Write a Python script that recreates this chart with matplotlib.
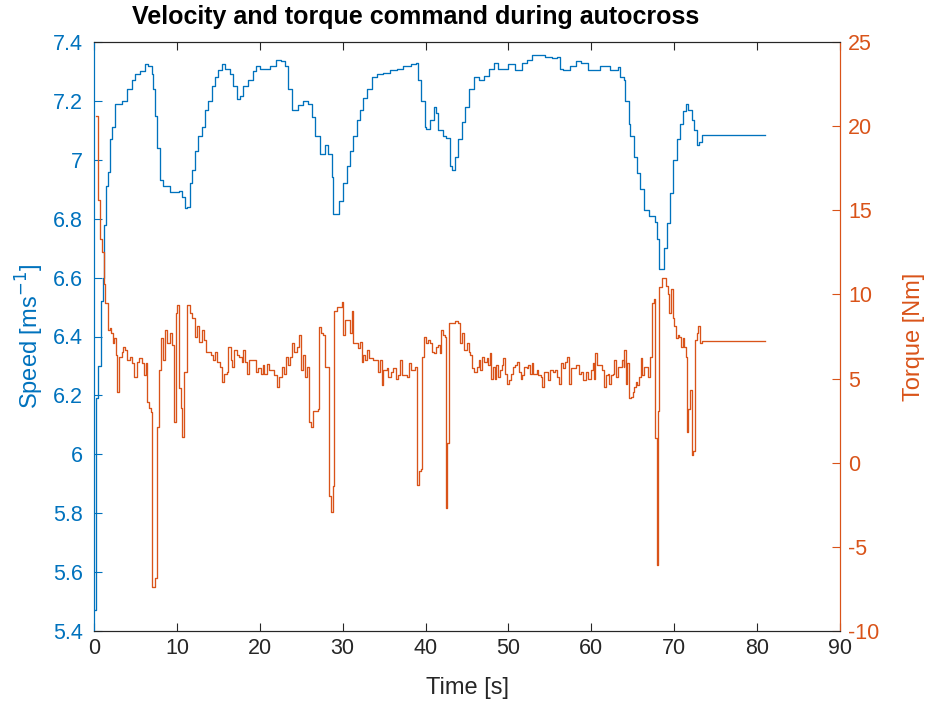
import matplotlib
matplotlib.use("Agg")
import matplotlib.pyplot as plt
import numpy as np

plt.rcParams['font.family'] = ['Liberation Sans', 'DejaVu Sans']
plt.rcParams['axes.unicode_minus'] = False

# ---- data ----
speed_t = [0.1, 0.21, 0.54, 0.88, 1.05, 1.17, 1.47, 1.72, 1.93, 2.23, 2.57, 3.34, 3.94, 4.55, 4.95,
           5.55, 6.15, 6.55, 6.96, 7.16, 7.36, 7.56, 7.96, 8.36, 9.17, 10.2, 10.58, 10.98, 11.26,
           11.58, 11.78, 12.18, 12.58, 12.99, 13.39, 13.79, 14.2, 14.6, 15.0, 15.4, 15.8, 16.4,
           16.8, 17.2, 17.6, 18.0, 18.6, 19.2, 19.6, 20.0, 20.6, 21.2, 22.0, 22.6, 23.0, 23.4,
           23.85, 24.25, 24.65, 25.25, 25.85, 26.26, 26.66, 27.26, 27.87, 28.27, 28.67, 28.87,
           29.5, 30.1, 30.5, 30.9, 31.3, 31.7, 32.1, 32.5, 32.9, 33.5, 34.1, 34.9, 35.7, 36.5,
           37.3, 38.3, 38.9, 39.1, 39.5, 39.9, 40.1, 40.5, 41.0, 41.3, 41.5, 42.1, 42.5, 42.9,
           43.2, 43.6, 43.95, 44.35, 44.8, 45.2, 45.8, 46.4, 47.0, 47.6, 48.2, 48.8, 49.4, 50.0,
           50.8, 51.6, 52.2, 52.8, 53.6, 54.4, 55.2, 55.8, 56.2, 56.6, 57.4, 58.2, 58.8, 59.6,
           60.4, 61.0, 61.6, 62.2, 62.9, 63.25, 63.45, 63.9, 64.1, 64.5, 64.7, 65.1, 65.5, 65.9,
           66.3, 66.9, 67.7, 67.95, 68.15, 68.75, 69.1, 69.5, 69.9, 70.3, 70.7, 71.1, 71.4, 71.7,
           72.1, 72.4, 72.7, 73.0, 73.3, 80.9]
speed_v = [5.47, 6.19, 6.30, 6.52, 6.60, 6.78, 6.91, 6.96, 7.07, 7.11, 7.19, 7.20, 7.24, 7.27, 7.29,
           7.30, 7.325, 7.32, 7.29, 7.24, 7.15, 7.04, 6.93, 6.91, 6.89, 6.895, 6.875, 6.835, 6.84,
           6.92, 6.965, 7.03, 7.08, 7.11, 7.17, 7.20, 7.25, 7.28, 7.305, 7.325, 7.31, 7.29,
           7.25, 7.205, 7.215, 7.25, 7.27, 7.30, 7.32, 7.31, 7.31, 7.32, 7.34, 7.335, 7.32, 7.24,
           7.17, 7.17, 7.185, 7.20, 7.19, 7.145, 7.08, 7.02, 7.05, 7.02, 6.94, 6.815,
           6.86, 6.92, 6.98, 7.03, 7.08, 7.135, 7.17, 7.21, 7.24, 7.28, 7.29, 7.295, 7.305, 7.31,
           7.32, 7.325, 7.33, 7.27, 7.20, 7.11, 7.105, 7.135, 7.18, 7.16, 7.10, 7.08, 7.075, 6.98,
           6.965, 7.01, 7.07, 7.13, 7.18, 7.24, 7.28, 7.27, 7.285, 7.31, 7.33, 7.31, 7.31, 7.325,
           7.305, 7.33, 7.34, 7.355, 7.355, 7.35, 7.345, 7.35, 7.31, 7.305, 7.32, 7.335, 7.33, 7.305,
           7.305, 7.32, 7.32, 7.305, 7.305, 7.315, 7.28, 7.27, 7.20, 7.12, 7.08, 7.01, 6.955, 6.90,
           6.83, 6.81, 6.79, 6.73, 6.63, 6.70, 6.785, 6.886, 7.0, 7.07, 7.12, 7.165, 7.19, 7.17,
           7.135, 7.10, 7.05, 7.06, 7.085, 7.085]

torque_t = [0.2, 0.46, 0.75, 0.97, 1.17, 1.38, 1.68, 1.89, 2.1, 2.3, 2.45, 2.65, 2.81, 3.0, 3.34,
            3.54, 3.74, 3.94, 4.34, 4.62, 4.83, 5.15, 5.47, 5.75, 6.03, 6.23, 6.43, 6.64, 6.84,
            7.04, 7.36, 7.56, 7.84, 8.05, 8.36, 8.6, 8.85, 9.17, 9.41, 9.65, 9.85, 10.05, 10.25,
            10.46, 10.66, 10.9, 11.18, 11.58, 11.86, 12.18, 12.47, 12.67, 12.99, 13.27, 13.47,
            14.08, 14.32, 14.6, 14.88, 15.2, 15.48, 15.68, 16.08, 16.2, 16.49, 16.69, 16.89, 17.2,
            17.53, 17.82, 18.0, 18.2, 18.42, 18.74, 19.5, 19.8, 20.1, 20.35, 20.55, 20.83, 21.1,
            21.7, 22.04, 22.3, 22.65, 22.9, 23.16, 23.44, 23.65, 23.92, 24.16, 24.45, 24.73, 24.97,
            25.25, 25.46, 25.74, 25.94, 26.18, 26.46, 26.98, 27.2, 27.39, 27.67, 27.87, 28.39,
            28.59, 28.8, 29.0, 29.28, 29.88, 30.08, 30.28, 30.88, 31.09, 31.29, 31.89, 32.1, 32.29,
            32.49, 32.7, 32.97, 33.2, 33.7, 34.3, 34.5, 34.7, 34.9, 35.3, 35.5, 35.8, 36.1, 36.4,
            36.7, 36.9, 37.1, 37.8, 38.0, 38.25, 38.7, 39.0, 39.2, 39.4, 39.6, 39.85, 40.05, 40.26,
            40.5, 40.8, 41.06, 41.26, 41.5, 41.7, 41.9, 42.1, 42.3, 42.47, 42.63, 42.83, 43.55,
            43.95, 44.2, 44.45, 44.67, 44.95, 45.2, 45.36, 45.6, 45.88, 46.16, 46.4, 46.57, 46.85,
            47.05, 47.37, 47.57, 47.8, 47.9, 48.17, 48.38, 48.5, 48.8, 49.0, 49.2, 49.4, 49.6,
            49.86, 50.1, 50.27, 50.5, 50.8, 51.07, 51.3, 51.48, 51.68, 51.88, 52.2, 52.4, 52.6,
            52.8, 53.0, 53.4, 53.6, 53.9, 54.1, 54.3, 54.8, 55.0, 55.33, 55.6, 55.8, 56.1, 56.4,
            56.6, 56.8, 57.1, 57.3, 57.5, 58.1, 58.5, 58.8, 59.0, 59.35, 59.6, 59.9, 60.15, 60.3,
            60.5, 60.7, 61.25, 61.5, 61.77, 61.97, 62.17, 62.37, 62.65, 62.77, 63.0, 63.2, 63.7,
            63.9, 64.0, 64.2, 64.35, 64.55, 64.8, 65.0, 65.15, 65.35, 65.55, 65.8, 65.95, 66.15,
            66.35, 66.87, 67.1, 67.3, 67.6, 67.7, 67.88, 68.05, 68.2, 68.5, 68.8, 69.0, 69.2, 69.4,
            69.6, 69.8, 70.0, 70.2, 70.4, 70.6, 70.8, 71.0, 71.2, 71.4, 71.5, 71.7, 71.9, 72.1,
            72.3, 72.5, 72.7, 72.9, 73.1, 73.3, 80.9]
torque_v = [20.6, 15.6, 13.3, 12.5, 10.6, 9.47, 7.9, 8.0, 7.7, 7.1, 7.4, 6.4, 4.22, 6.3, 6.6,
            6.9, 6.7, 6.1, 6.3, 5.9, 5.1, 6.0, 6.2, 5.9, 5.2, 5.9, 3.63, 3.24, 3.04,
            -7.37, -6.87, 2.1, 5.5, 7.4, 6.1, 7.89, 7.1, 7.7, 7.0, 2.44, 8.88, 9.37, 4.42,
            3.24, 1.55, 5.41, 9.37, 8.88, 8.6, 7.49, 8.1, 7.2, 7.9, 7.3, 6.6,
            6.4, 6.1, 6.6, 6.0, 5.7, 4.82, 5.3, 5.4, 6.9, 6.1, 5.7, 6.7, 6.4,
            6.3, 6.0, 6.7, 6.0, 5.3, 6.1, 5.4, 5.6, 5.3, 5.8, 5.3, 5.85, 5.5,
            5.2, 4.52, 5.1, 5.7, 5.3, 6.3, 5.8, 6.3, 7.1, 6.6, 6.9, 7.6, 5.5,
            6.4, 5.1, 5.7, 2.44, 2.1, 3.1, 3.2, 8.08, 7.7, 7.6, 5.7, -2.0,
            -2.9, -1.4, 9.0, 9.27, 9.57, 7.6, 8.48, 7.7, 9.0, 7.1, 6.8, 7.2, 6.0,
            6.4, 6.1, 6.7, 6.2, 6.1, 5.4, 6.1, 4.62, 5.5, 5.6, 5.1, 5.4, 5.6, 5.0,
            5.2, 6.1, 5.2, 5.1, 5.9, 5.5, 5.7, -1.32, -0.5, -0.4, 6.3, 7.5, 7.1, 7.3,
            7.1, 6.6, 6.5, 6.9, 7.0, 6.5, 7.9, 7.6, 7.5, -2.7, 1.16, 8.3, 8.4,
            8.3, 7.1, 7.7, 6.7, 7.1, 6.6, 6.4, 5.6, 5.4, 5.7, 6.1, 5.5, 6.3,
            6.0, 6.2, 5.8, 6.5, 5.0, 5.7, 5.0, 5.8, 5.1, 5.5, 5.8, 6.2, 5.3,
            4.7, 4.9, 5.3, 5.7, 5.8, 6.0, 5.4, 5.0, 5.2, 5.7, 5.6, 5.8, 5.3,
            5.9, 5.3, 5.5, 5.2, 5.1, 4.5, 5.4, 4.9, 5.5, 5.4, 5.5, 5.1, 4.7, 5.9,
            5.6, 6.0, 6.3, 4.7, 5.6, 5.8, 5.3, 5.4, 4.9, 5.4, 5.0, 5.5, 5.9, 5.0,
            6.5, 5.8, 5.5, 4.52, 5.2, 5.3, 4.7, 5.2, 5.3, 6.1, 5.1, 5.7, 6.1,
            5.7, 6.7, 4.7, 5.9, 3.83, 3.9, 4.2, 4.5, 4.8, 4.6, 5.1, 6.2, 5.2,
            5.7, 5.1, 6.3, 9.47, 9.7, 1.45, -6.07, 3.1, 10.46, 10.96, 11.0, 10.5, 10.0, 8.88,
            10.3, 8.6, 8.1, 7.4, 7.6, 7.5, 6.9, 7.4, 6.9, 6.3, 1.85, 3.2, 4.3, 0.47,
            0.7, 7.3, 7.7, 8.1, 7.1, 7.23, 7.23]

x_ticks = [0, 10, 20, 30, 40, 50, 60, 70, 80, 90]
speed_ticks = [5.4, 5.6, 5.8, 6.0, 6.2, 6.4, 6.6, 6.8, 7.0, 7.2, 7.4]
speed_ticklabels = ['5.4', '5.6', '5.8', '6', '6.2', '6.4', '6.6', '6.8', '7', '7.2', '7.4']
torque_ticks = [-10, -5, 0, 5, 10, 15, 20, 25]

title = 'Velocity and torque command during autocross'
xlabel = 'Time [s]'
ylabel_left = 'Speed [ms$^{-1}$]'
ylabel_right = 'Torque [Nm]'

BLUE = '#0072BD'
ORANGE = '#D95319'
DARK = '#262626'

W, H = 930, 707
fig = plt.figure(figsize=(W / 100, H / 100), dpi=100)
L, R, T, B = 94, 840, 42, 631
ax = fig.add_axes([L / W, (H - B) / H, (R - L) / W, (B - T) / H])
ax2 = ax.twinx()

ax.plot(speed_t, speed_v, drawstyle='steps-post', color=BLUE, lw=0.95)
ax2.plot(torque_t, torque_v, drawstyle='steps-post', color=ORANGE, lw=0.95)

ax.set_xlim(0, 90)
ax.set_ylim(5.4, 7.4)
ax2.set_ylim(-10, 25)
ax.set_xticks(x_ticks)
ax.set_yticks(speed_ticks)
ax.set_yticklabels(speed_ticklabels)
ax2.set_yticks(torque_ticks)

tick_fs = 15.5
ax.tick_params(axis='x', direction='in', length=6, width=0.8, colors=DARK, labelsize=tick_fs,
               top=True, pad=5)
ax.tick_params(axis='y', direction='in', length=6, width=0.8, colors=BLUE, labelsize=tick_fs,
               pad=8)
ax2.tick_params(axis='y', direction='in', length=6, width=0.8, colors=ORANGE, labelsize=tick_fs,
                pad=6)

for a in (ax, ax2):
    a.spines['top'].set_color(DARK)
    a.spines['bottom'].set_color(DARK)
    a.spines['left'].set_color(BLUE)
    a.spines['right'].set_color(ORANGE)
    for s in a.spines.values():
        s.set_linewidth(0.8)

lab_fs = 17
ax.set_xlabel(xlabel, fontsize=lab_fs, color=DARK, labelpad=13)
ax.set_ylabel(ylabel_left, fontsize=lab_fs, color=BLUE, labelpad=5)
ax2.set_ylabel(ylabel_right, fontsize=lab_fs, color=ORANGE, labelpad=17)

fig.text(416 / W, 1 - 17 / H, title, ha='center', va='center', fontsize=18,
         fontweight='bold', color='black')

fig.savefig('out.png', dpi=100)
